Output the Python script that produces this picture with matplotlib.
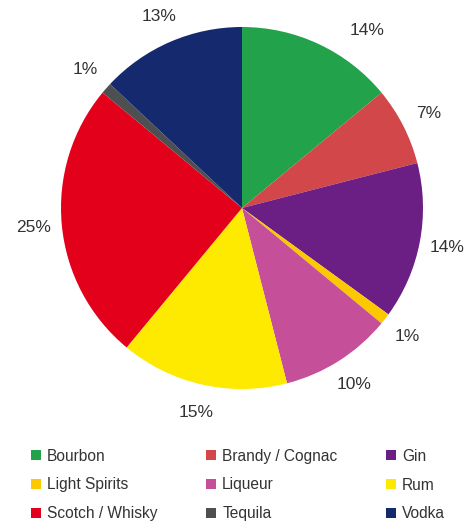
import matplotlib
matplotlib.use("Agg")
import numpy as np
import matplotlib.pyplot as plt
from matplotlib.lines import Line2D

categories = ["Bourbon", "Brandy / Cognac", "Gin", "Light Spirits", "Liqueur",
              "Rum", "Scotch / Whisky", "Tequila", "Vodka"]
values = [14, 7, 14, 1, 10, 15, 25, 1, 13]
colors = ["#22a24a", "#d2474a", "#6b1e84", "#fcc800", "#c54f98",
          "#fdea00", "#e3001b", "#4d4f51", "#15296e"]

plt.rcParams['font.family'] = ['Liberation Sans', 'DejaVu Sans']

fig = plt.figure(figsize=(4.73, 5.23), dpi=100)
ax = fig.add_axes([61 / 473, 134 / 523, 362 / 473, 362 / 523])

wedges, texts, autotexts = ax.pie(
    values, colors=colors, startangle=90, counterclock=False,
    autopct=lambda p: f"{p:.0f}%", pctdistance=1.155,
    wedgeprops=dict(linewidth=0),
    textprops=dict(fontsize=12.5, color="#333333"))
for t in autotexts:
    t.set_clip_on(False)
# first label sits a little further clockwise in the original
a = np.deg2rad(90 - 35)
autotexts[0].set_position((1.2 * np.cos(a), 1.2 * np.sin(a)))
ax.set_xlim(-1, 1)
ax.set_ylim(-1, 1)
ax.set_aspect('equal')
ax.axis('off')

handles = [Line2D([], [], linestyle='none', marker='s', markersize=6.5,
                  markerfacecolor=c, markeredgewidth=0) for c in colors]
order = [0, 3, 6, 1, 4, 7, 2, 5, 8]
fig.legend([handles[i] for i in order], [categories[i] for i in order],
           ncol=3, loc='center', bbox_to_anchor=(0.503, 1 - 485 / 523),
           frameon=False, fontsize=11.2, handlelength=0.7, handletextpad=0.35,
           columnspacing=3.1, labelspacing=0.88, borderpad=0,
           labelcolor="#333333")

fig.savefig("out.png", dpi=100)
